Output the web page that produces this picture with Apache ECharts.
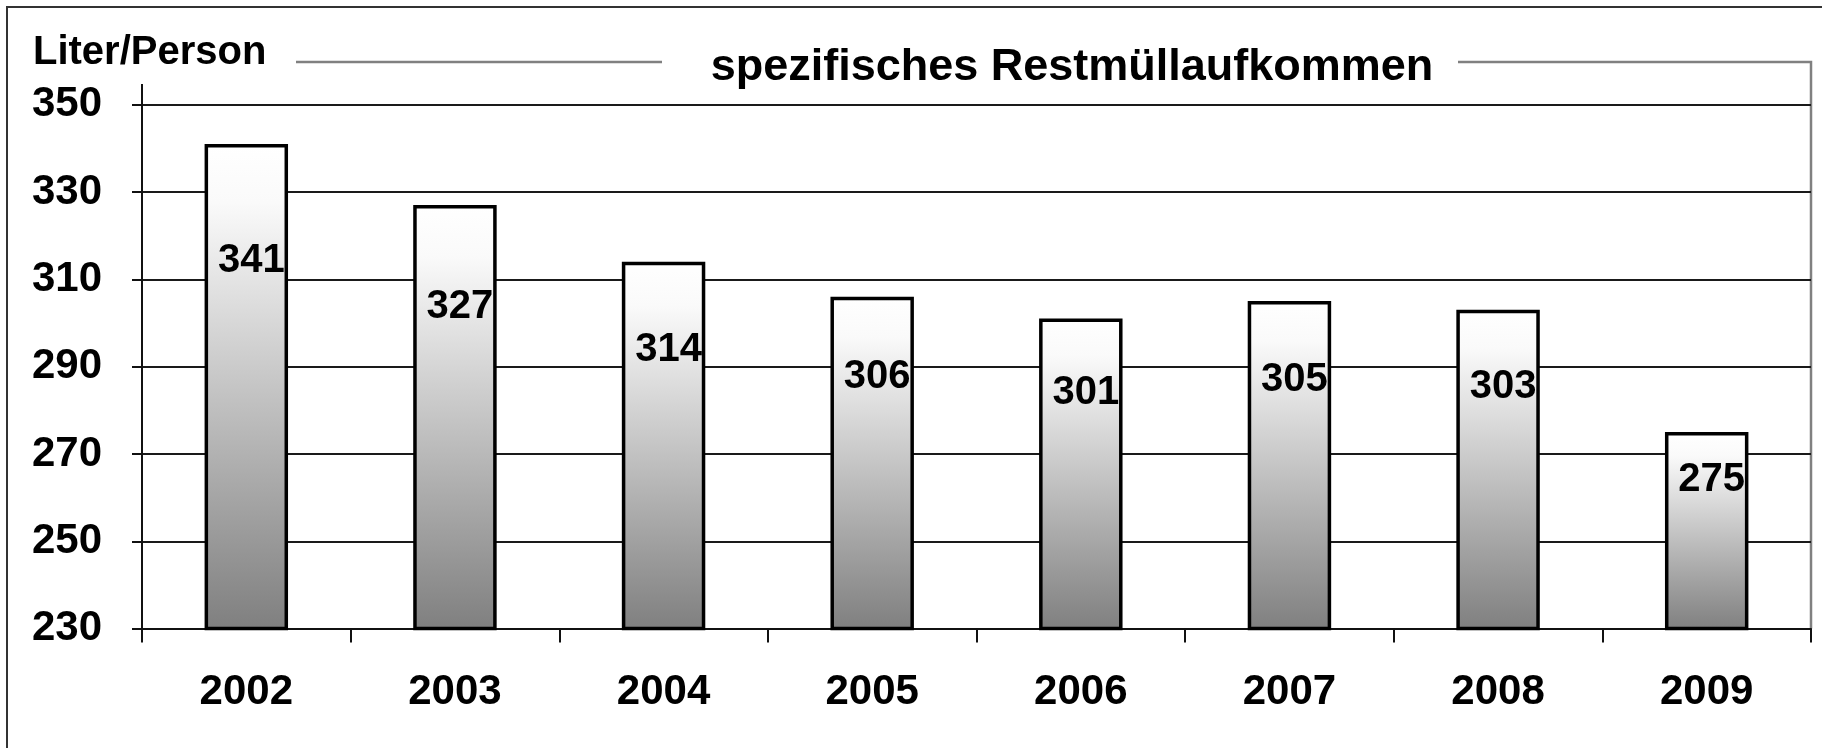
<!DOCTYPE html>
<html><head><meta charset="utf-8">
<script src="https://cdn.jsdelivr.net/npm/echarts@6/dist/echarts.min.js"></script>
<style>html,body{margin:0;padding:0;background:#fff}#c{width:1822px;height:748px}</style>
</head><body><div id="c"></div>
<script>
const categories = ['2002', '2003', '2004', '2005', '2006', '2007', '2008', '2009'];
const values = [341, 327, 314, 306, 301, 305, 303, 275];
const yMin = 230, yMax = 350, yInterval = 20;
const yAxisName = 'Liter/Person';
const titleText = 'spezifisches Restmüllaufkommen';

const FONT = '"Liberation Sans", Arial, sans-serif';
const chart = echarts.init(document.getElementById('c'), null, {renderer: 'canvas'});

const G = {left: 142, right: 11, top: 104.6, bottom: 119.4};
const plotRight = 1822 - G.right;
const plotBottom = 748 - G.bottom;

chart.setOption({
  backgroundColor: '#ffffff',
  animation: false,
  grid: {left: G.left, right: G.right, top: G.top, bottom: G.bottom, containLabel: false},
  xAxis: {
    type: 'category',
    data: categories,
    axisLine: {lineStyle: {color: '#111', width: 2}},
    axisTick: {show: true, alignWithLabel: false, length: 14, lineStyle: {color: '#111', width: 2}},
    axisLabel: {color: '#000', fontFamily: FONT, fontWeight: 'bold', fontSize: 42, lineHeight: 42, margin: 43},
    splitLine: {show: false}
  },
  yAxis: {
    type: 'value',
    min: yMin, max: yMax, interval: yInterval,
    axisLine: {show: true, lineStyle: {color: '#111', width: 2}},
    axisTick: {show: true, length: 10, lineStyle: {color: '#111', width: 2}},
    axisLabel: {color: '#000', fontFamily: FONT, fontWeight: 'bold', fontSize: 42, margin: 40},
    splitLine: {show: true, lineStyle: {color: '#1a1a1a', width: 2}}
  },
  series: [{
    type: 'bar',
    data: values,
    barWidth: '40%',
    itemStyle: {
      borderColor: '#000', borderWidth: 3.5,
      color: new echarts.graphic.LinearGradient(0, 0, 0, 1, [
        {offset: 0, color: '#ffffff'},
        {offset: 0.12, color: '#fafafa'},
        {offset: 1, color: '#7f7f7f'}
      ])
    },
    label: {
      show: true,
      position: ['50%', '24%'],
      align: 'center', verticalAlign: 'middle',
      offset: [5, 0],
      color: '#000', fontFamily: FONT, fontWeight: 'bold', fontSize: 40
    }
  }],
  graphic: [
    {type: 'rect', shape: {x: 7, y: 7, width: 1840, height: 770}, style: {fill: null, stroke: '#333', lineWidth: 2}, silent: true},
    {type: 'polyline', shape: {points: [[296, 62], [662, 62]]}, style: {stroke: '#808080', lineWidth: 2.5}, silent: true},
    {type: 'polyline', shape: {points: [[1458, 62], [plotRight, 62], [plotRight, plotBottom]]}, style: {stroke: '#808080', lineWidth: 2.5, fill: null}, silent: true},
    {type: 'line', shape: {x1: G.left, y1: 84, x2: G.left, y2: G.top}, style: {stroke: '#111', lineWidth: 2}, silent: true},
    {type: 'text', x: 33, y: 53, style: {text: yAxisName, fill: '#000', font: 'bold 40px ' + FONT, align: 'left', verticalAlign: 'middle'}, silent: true},
    {type: 'text', x: 1072, y: 68, style: {text: titleText, fill: '#000', font: 'bold 45px ' + FONT, align: 'center', verticalAlign: 'middle'}, silent: true}
  ]
});
</script></body></html>
